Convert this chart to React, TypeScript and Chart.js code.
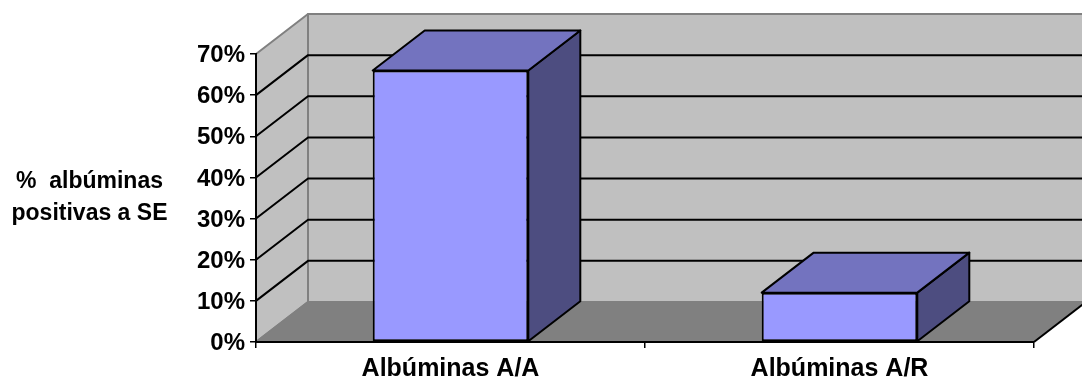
import React, { useEffect, useRef } from "react";
import { Chart, registerables } from "chart.js";

Chart.register(...registerables);

const categories = ["Albúminas A/A", "Albúminas A/R"];
const percentages = [66, 12];
const titleLines = ["%  albúminas", "positivas a SE"];

const FONT_FAMILY = "'Liberation Sans', Arial, sans-serif";
const DEPTH_X = 52;
const DEPTH_Y = 40;

const poly = (ctx: CanvasRenderingContext2D, pts: number[][], fill: string | null, stroke: string | null, lw = 2) => {
  ctx.beginPath();
  pts.forEach(([x, y], i) => (i ? ctx.lineTo(x, y) : ctx.moveTo(x, y)));
  ctx.closePath();
  if (fill) {
    ctx.fillStyle = fill;
    ctx.fill();
  }
  if (stroke) {
    ctx.strokeStyle = stroke;
    ctx.lineWidth = lw;
    ctx.lineJoin = "round";
    ctx.stroke();
  }
};

// Side wall, back wall, floor and the gridlines that wrap around them.
const roomPlugin = {
  id: "room",
  beforeDraw(chart: any) {
    const { ctx, chartArea: a, scales } = chart;
    const dx = DEPTH_X;
    const dy = DEPTH_Y;
    ctx.save();
    poly(ctx, [[a.left + dx, a.top - dy], [a.right + dx, a.top - dy], [a.right + dx, a.bottom - dy], [a.left + dx, a.bottom - dy]], "#C0C0C0", "#808080");
    poly(ctx, [[a.left, a.top], [a.left + dx, a.top - dy], [a.left + dx, a.bottom - dy], [a.left, a.bottom]], "#C0C0C0", "#808080");
    poly(ctx, [[a.left, a.bottom], [a.left + dx, a.bottom - dy], [a.right + dx, a.bottom - dy], [a.right, a.bottom]], "#808080", null);
    ctx.strokeStyle = "#808080";
    ctx.lineWidth = 2;
    ctx.beginPath();
    ctx.moveTo(a.left, a.bottom);
    ctx.lineTo(a.left + dx, a.bottom - dy);
    ctx.lineTo(a.right + dx, a.bottom - dy);
    ctx.stroke();
    ctx.strokeStyle = "#000";
    ctx.beginPath();
    ctx.moveTo(a.right, a.bottom);
    ctx.lineTo(a.right + dx, a.bottom - dy);
    ctx.stroke();

    ctx.lineWidth = 2;
    for (const t of scales.y.ticks) {
      if (t.value === 0 || t.value === scales.y.max) continue;
      const y = scales.y.getPixelForValue(t.value);
      ctx.beginPath();
      ctx.moveTo(a.left, y);
      ctx.lineTo(a.left + dx, y - dy);
      ctx.lineTo(a.right + dx, y - dy);
      ctx.stroke();
    }
    ctx.restore();
  },
};

// Top and right faces of each bar, extruded from the library's bar elements.
const extrudePlugin = {
  id: "extrude",
  afterDatasetsDraw(chart: any) {
    const { ctx } = chart;
    const dx = DEPTH_X;
    const dy = DEPTH_Y;
    ctx.save();
    for (const el of chart.getDatasetMeta(0).data) {
      const { x, y, base, width } = el.getProps(["x", "y", "base", "width"], true);
      const l = x - width / 2;
      const r = x + width / 2;
      poly(ctx, [[r, y], [r + dx, y - dy], [r + dx, base - dy], [r, base]], "#4D4D80", "#000");
      poly(ctx, [[l, y], [l + dx, y - dy], [r + dx, y - dy], [r, y]], "#7373BF", "#000");
    }
    ctx.restore();
  },
};

// Horizontal value-axis caption to the left of the tick labels.
const captionPlugin = {
  id: "caption",
  afterDraw(chart: any) {
    const { ctx } = chart;
    ctx.save();
    ctx.font = `bold 23px ${FONT_FAMILY}`;
    ctx.fillStyle = "#000";
    ctx.textAlign = "center";
    ctx.textBaseline = "alphabetic";
    titleLines.forEach((line, i) => ctx.fillText(line, 89.5, 188 + i * 32));
    ctx.restore();
  },
};

export default function App() {
  const ref = useRef<HTMLCanvasElement>(null);

  useEffect(() => {
    const chart = new Chart(ref.current!, {
      type: "bar",
      data: {
        labels: categories,
        datasets: [
          {
            data: percentages,
            backgroundColor: "#9999FF",
            borderColor: "#000",
            borderWidth: 2,
            borderSkipped: false,
            categoryPercentage: 1,
            barPercentage: 0.4,
          },
        ],
      },
      plugins: [roomPlugin, extrudePlugin, captionPlugin],
      options: {
        responsive: false,
        animation: false,
        layout: { padding: { top: 54, right: 48, left: 0, bottom: 0 } },
        plugins: { legend: { display: false }, tooltip: { enabled: false } },
        scales: {
          x: {
            afterFit: (s: any) => {
              s.height = 38;
            },
            border: { color: "#000", width: 2 },
            grid: { offset: true, drawOnChartArea: false, color: "#000", tickLength: 6, lineWidth: 1.5 },
            ticks: {
              color: "#000",
              padding: 6,
              maxRotation: 0,
              font: { family: FONT_FAMILY, size: 25, weight: "bold" },
            },
          },
          y: {
            min: 0,
            max: 70,
            afterFit: (s: any) => {
              s.width = 256;
            },
            border: { color: "#000", width: 2 },
            grid: { drawOnChartArea: false, color: "#000", tickLength: 6, lineWidth: 1.5 },
            ticks: {
              stepSize: 10,
              color: "#000",
              padding: 5,
              labelOffset: 1.5,
              callback: (v: any) => `${v}%`,
              font: { family: FONT_FAMILY, size: 24, weight: "bold" },
            },
          },
        },
      },
    } as any);
    return () => chart.destroy();
  }, []);

  return (
    <canvas
      ref={ref}
      width={1082}
      height={380}
      style={{ position: "absolute", left: 0, top: 0 }}
    />
  );
}
